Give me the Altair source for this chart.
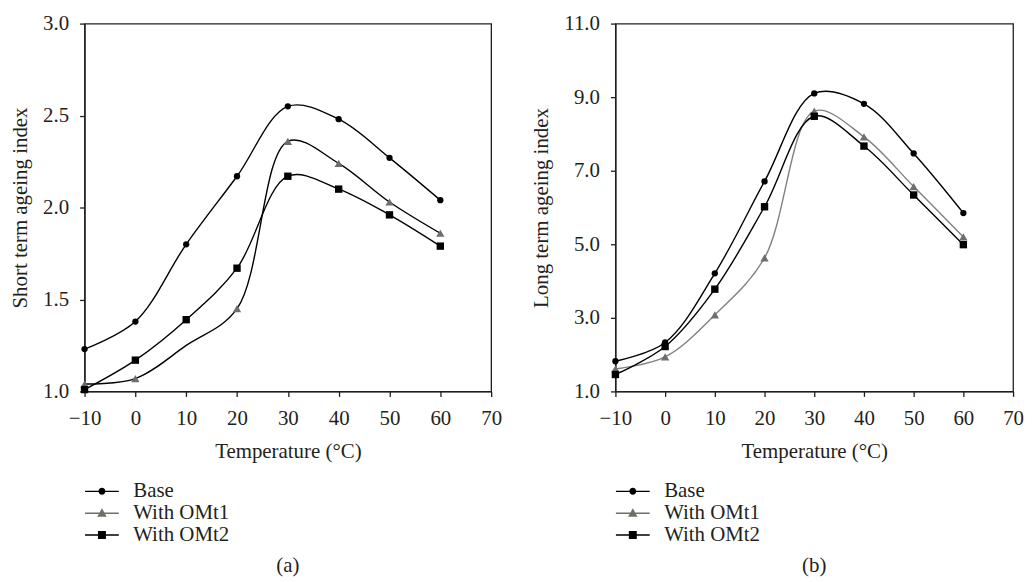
import altair as alt
import pandas as pd

# ---------------- data ----------------
temps = [-10, 0, 10, 20, 30, 40, 50, 60]
series_names = ["Base", "With OMt1", "With OMt2"]

short_base = [1.23, 1.38, 1.80, 2.17, 2.55, 2.48, 2.27, 2.04]
short_omt1 = [1.04, 1.07, 1.25, 1.45, 2.36, 2.24, 2.03, 1.86]
short_omt1_marked = [True, True, False, True, True, True, True, True]
short_omt2 = [1.01, 1.17, 1.39, 1.67, 2.17, 2.10, 1.96, 1.79]

long_base = [1.82, 2.33, 4.21, 6.71, 9.10, 8.82, 7.47, 5.85]
long_omt1 = [1.61, 1.94, 3.08, 4.63, 8.62, 7.92, 6.57, 5.20]
long_omt2 = [1.46, 2.22, 3.78, 6.02, 8.48, 7.67, 6.34, 4.99]

x_ticks = [-10, 0, 10, 20, 30, 40, 50, 60, 70]
short_ticks = [1.0, 1.5, 2.0, 2.5, 3.0]
long_ticks = [1.0, 3.0, 5.0, 7.0, 9.0, 11.0]

FONT = "Liberation Serif"
FS = 21
TXT = "#231f20"
GRAY_LINE = "#808080"
GRAY_MARK = "#6f6f69"


def make_df(base, omt1, omt2, omt1_marked=None):
    rows = []
    if omt1_marked is None:
        omt1_marked = [True] * len(temps)
    for t, v in zip(temps, base):
        rows.append({"temp": t, "value": v, "series": "Base", "marked": True})
    for t, v, m in zip(temps, omt1, omt1_marked):
        rows.append({"temp": t, "value": v, "series": "With OMt1", "marked": m})
    for t, v in zip(temps, omt2):
        rows.append({"temp": t, "value": v, "series": "With OMt2", "marked": True})
    return pd.DataFrame(rows)


# legend symbols: short line with marker in the middle (custom paths)
LINE = "M-3.4,-0.14H3.4V0.14H-3.4Z"
SYM_CIRCLE = LINE + "M0.7,0A0.7,0.7,0,1,1,-0.7,0A0.7,0.7,0,1,1,0.7,0Z"
SYM_TRI = LINE + "M0,-1L0.95,0.7L-0.95,0.7Z"
SYM_SQ = LINE + "M-0.8,-0.8H0.8V0.8H-0.8Z"


def panel(df, ytitle, ydomain, yticks, omt1_line_color, caption, width):
    x = alt.X(
        "temp:Q",
        scale=alt.Scale(domain=[-10, 70], nice=False, zero=False),
        axis=alt.Axis(values=x_ticks, title="Temperature (°C)", labelFlush=False,
                      format="d", titlePadding=12, labelPadding=11),
    )
    y = alt.Y(
        "value:Q",
        scale=alt.Scale(domain=ydomain, nice=False, zero=False),
        axis=alt.Axis(values=yticks, format=".1f", title=ytitle, titlePadding=12,
                      labelPadding=11),
    )
    specs = [
        ("Base", "black", "circle", "black", 40),
        ("With OMt1", omt1_line_color, "triangle-up", GRAY_MARK, 70),
        ("With OMt2", "black", "square", "black", 55),
    ]
    layers = []
    for name, lcol, shape, mcol, msize in specs:
        base = alt.Chart(df).transform_filter(alt.datum.series == name)
        layers.append(
            base.mark_line(interpolate="catmull-rom", color=lcol, strokeWidth=1.4)
            .encode(x=x, y=y)
        )
        layers.append(
            base.transform_filter(alt.datum.marked)
            .mark_point(shape=shape, filled=True, color=mcol, size=msize, opacity=1)
            .encode(x=x, y=y)
        )
    leg = dict(
        title=None, orient="none", legendX=7, legendY=460, direction="vertical",
        labelFont=FONT, labelFontSize=FS, labelColor=TXT, symbolSize=100,
        symbolStrokeWidth=0, symbolOpacity=1, labelOffset=21, rowPadding=0,
        padding=0, labelLimit=300,
    )
    legend_layer = alt.Chart(df).mark_point(filled=True, opacity=0).encode(
        x=x, y=y,
        shape=alt.Shape("series:N",
                        scale=alt.Scale(domain=series_names, range=[SYM_CIRCLE, SYM_TRI, SYM_SQ]),
                        legend=alt.Legend(**leg)),
        color=alt.Color("series:N",
                        scale=alt.Scale(domain=series_names, range=["black", GRAY_MARK, "black"]),
                        legend=alt.Legend(**leg)),
    )
    layers.append(legend_layer)
    return alt.layer(*layers).properties(
        width=width, height=370,
        title=alt.TitleParams(caption, orient="bottom", anchor="middle", frame="group",
                              font=FONT, fontSize=FS, fontWeight="normal", color=TXT, offset=10),
    )


left = panel(make_df(short_base, short_omt1, short_omt2, short_omt1_marked),
             "Short term ageing index", [1.0, 3.0], short_ticks, "black", "(a)", 409)
right = panel(make_df(long_base, long_omt1, long_omt2),
              "Long term ageing index", [1.0, 11.0], long_ticks, GRAY_LINE, "(b)", 400)

chart = (
    alt.hconcat(left, right, spacing=27)
    .resolve_scale(x="independent", y="independent", color="independent", shape="independent")
    .resolve_legend(color="independent", shape="independent")
    .properties(padding={"left": 1, "top": 2, "right": 0, "bottom": -2})
    .configure_view(stroke=TXT, strokeWidth=1.3)
    .configure_axis(
        domainColor=TXT, domainWidth=1.3, tickColor=TXT, tickSize=5, tickWidth=1.3,
        labelFont=FONT, labelFontSize=FS, labelColor=TXT,
        titleFont=FONT, titleFontSize=FS, titleFontWeight="normal", titleColor=TXT,
        grid=False,
    )
)

chart.save("out.html", embed_options={"renderer": "svg", "actions": False})
